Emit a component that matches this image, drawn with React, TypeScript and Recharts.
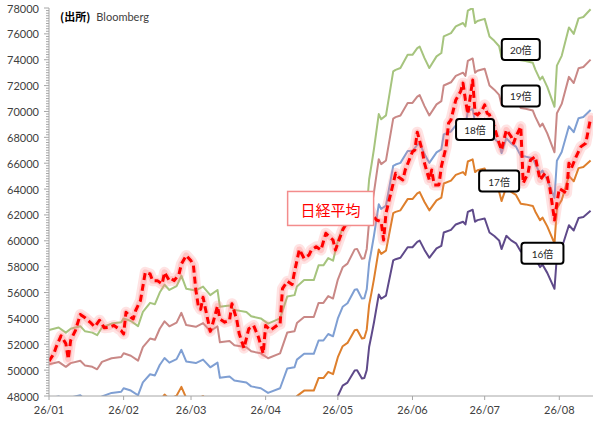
import React from 'react';
import { LineChart, Line, XAxis, YAxis, ReferenceDot } from 'recharts';

const epsDays = [
  0, 4, 7, 9, 13, 15, 18, 20, 22, 26,
  30, 31, 34, 37, 39, 42, 44, 46, 48, 50,
  53, 55, 57, 61, 64, 67, 70, 71, 75, 77,
  82, 84, 88, 91, 96, 99, 102, 103, 106, 110,
  112, 114, 116, 118, 120, 122, 124, 127, 128, 130,
  131, 132, 133, 134, 135, 137, 138, 140, 143, 144,
  146, 149, 151, 153, 154, 156, 158, 161, 163, 164,
  167, 169, 172, 173, 174, 176, 177, 178, 181, 183,
  185, 187, 188, 190, 192, 194, 196, 198, 201, 202,
  204, 205, 207, 210, 211, 213, 216, 218, 220, 222,
  225,
];
const eps = [
  2655, 2665, 2645, 2660, 2670, 2650, 2645, 2635, 2665, 2680,
  2685, 2700, 2690, 2670, 2725, 2760, 2755, 2800, 2830, 2810,
  2825, 2865, 2815, 2808, 2823, 2790, 2810, 2745, 2750, 2733,
  2725, 2708, 2700, 2680, 2700, 2785, 2790, 2823, 2848, 2848,
  2905, 2905, 2933, 2923, 3000, 3050, 3065, 3123, 3125, 3085,
  3087, 3125, 3238, 3295, 3355, 3490, 3470, 3485, 3655, 3661,
  3668, 3719, 3719, 3745, 3751, 3706, 3668, 3713, 3726, 3790,
  3803, 3829, 3842, 3829, 3890, 3900, 3842, 3850, 3858, 3790,
  3773, 3752, 3710, 3774, 3752, 3738, 3698, 3695, 3688, 3663,
  3623, 3635, 3595, 3518, 3677, 3715, 3825, 3800, 3860, 3865,
  3895,
];

// Nikkei average
const nikkeiDays = [
  0, 2, 3, 5, 7, 8, 9, 11, 13, 15,
  17, 19, 21, 23, 25, 27, 29, 30, 31, 32,
  34, 35, 36, 38, 40, 42, 43, 45, 47, 48,
  50, 51, 52, 54, 55, 57, 59, 60, 61, 62,
  63, 64, 65, 67, 68, 70, 71, 73, 75, 76,
  78, 79, 81, 83, 85, 87, 89, 90, 92, 95,
  96, 97, 99, 101, 102, 104, 106, 108, 109, 111,
  113, 115, 118, 119, 122, 124, 127, 130, 133, 135,
  136, 138, 139, 140, 142, 144, 145, 147, 148, 151,
  152, 153, 155, 156, 158, 159, 160, 162, 163, 165,
  166, 167, 168, 169, 171, 172, 173, 174, 176, 177,
  178, 180, 181, 182, 183, 185, 187, 188, 190, 192,
  193, 194, 196, 197, 199, 200, 202, 204, 206, 207,
  208, 210, 211, 212, 215, 216, 217, 219, 221, 223,
  225,
];
const nikkei = [
  50700, 51270, 51800, 52650, 52050, 50850, 52300, 53080, 54300, 54050,
  53720, 53350, 53860, 53270, 53320, 53450, 53190, 53060, 52800, 54480,
  54090, 53960, 54610, 55380, 57560, 57430, 56920, 56920, 56660, 57560,
  56920, 57050, 56920, 57400, 58200, 58870, 58450, 58100, 56200, 55000,
  54700, 55630, 54740, 53000, 53580, 54950, 53950, 53710, 53840, 55140,
  53900, 52830, 51700, 53200, 53450, 52560, 51280, 53450, 53080, 53500,
  53550, 56300, 56870, 56620, 57600, 59330, 58640, 58900, 59290, 59540,
  59290, 60580, 60060, 59290, 60840, 61480, 62300, 61800, 62500, 61860,
  61610, 61480, 60060, 62130, 63680, 65220, 64960, 64700, 65480, 66890,
  67020, 68400, 67020, 66000, 64700, 65480, 64320, 64320, 65740, 67280,
  69090, 69350, 70120, 70890, 71540, 72190, 70890, 69800, 72440, 69870,
  69740, 70120, 70510, 69870, 69740, 68830, 67540, 67020, 68570, 68060,
  67540, 68060, 68830, 64450, 65220, 66250, 66510, 64700, 65220, 64960,
  64180, 61610, 62900, 64050, 63680, 66000, 65610, 66510, 67280, 67540,
  69480,
];

const multiples = [20, 19, 18, 17, 16];
const multipleLabels = ['20倍', '19倍', '18倍', '17倍', '16倍'];
const multipleColors = ['#A6C47E', '#C98886', '#7F9FD3', '#DE7F2C', '#5F4A8A'];
const labelDays = [196, 196, 177, 187, 205];
const labelValues = [74790, 71200, 68600, 64620, 59030];
const labelWidths = [38, 38, 38, 40, 42];

const nikkeiLabel = '日経平均';
const nikkeiLabelDay = 117;
const nikkeiLabelValue = 62500;

const monthTicks = [0, 31, 59, 90, 120, 151, 181, 212];
const monthLabels = ['26/01', '26/02', '26/03', '26/04', '26/05', '26/06', '26/07', '26/08'];

const yMin = 48000;
const yMax = 78000;
const yTicks: number[] = [];
for (let v = yMin; v <= yMax; v += 200) yTicks.push(v);

const epsTable = epsDays.map((d, i) => {
  const row: Record<string, number> = { day: d };
  multiples.forEach((m) => {
    row['m' + m] = eps[i] * m;
  });
  return row;
});
const nikkeiTable = nikkeiDays.map((d, i) => ({ day: d, nikkei: nikkei[i] }));

const FONT = "Lato, 'Noto Sans CJK JP', sans-serif";

const YTick = (props: any) => {
  const { x, y, payload } = props;
  const v = payload.value as number;
  const major = v % 2000 === 0;
  return (
    <g>
      <line x1={x - (major ? 5 : 3)} x2={x} y1={y} y2={y} stroke="#A6A6A6" strokeWidth={1} />
      {major && (
        <text x={x - 10} y={y} textAnchor="end" dominantBaseline="central" fontSize={11} fill="#404040" fontFamily={FONT}>
          {v}
        </text>
      )}
    </g>
  );
};

const makeBox = (label: string, w: number) => (props: any) => {
  const { cx, cy } = props;
  const h = 21;
  return (
    <g>
      <rect x={cx - w / 2} y={cy - h / 2} width={w} height={h} rx={3} ry={3} fill="#FFFFFF" stroke="#000000" strokeWidth={2} />
      <text x={cx} y={cy + 0.5} textAnchor="middle" dominantBaseline="central" fontSize={10} fill="#262626" fontFamily={FONT}>
        {label}
      </text>
    </g>
  );
};

const nikkeiBox = (props: any) => {
  const { cx, cy } = props;
  const w = 86;
  const h = 34;
  return (
    <g>
      <rect x={cx - w / 2} y={cy - h / 2} width={w} height={h} fill="#FFFFFF" stroke="#F38C8C" strokeWidth={1.5} />
      <text x={cx} y={cy + 1} textAnchor="middle" dominantBaseline="central" fontSize={15} fill="#FF0000" fontFamily="'Noto Sans CJK JP', sans-serif">
        {nikkeiLabel}
      </text>
    </g>
  );
};

export default function App() {
  return (
    <div style={{ position: 'absolute', left: 0, top: 0, width: 604, height: 433, background: '#FFFFFF' }}>
      <LineChart width={604} height={433} margin={{ top: 8, right: 11, bottom: 0, left: 1 }}>
        <XAxis
          type="number"
          dataKey="day"
          domain={[0, 226]}
          ticks={monthTicks}
          interval={0}
          allowDataOverflow
          tickFormatter={(v: number) => monthLabels[monthTicks.indexOf(v)] ?? ''}
          height={37}
          tickSize={4}
          tickMargin={6}
          stroke="#A6A6A6"
          tick={{ fontSize: 11, fill: '#404040', fontFamily: FONT }}
        />
        <YAxis
          type="number"
          domain={[yMin, yMax]}
          ticks={yTicks}
          interval={0}
          allowDataOverflow
          width={48}
          tickSize={0}
          tickMargin={0}
          tickLine={false}
          stroke="#A6A6A6"
          tick={<YTick />}
        />
        {multiples.map((m, i) => (
          <Line
            key={m}
            data={epsTable}
            dataKey={'m' + m}
            stroke={multipleColors[i]}
            strokeWidth={2}
            dot={false}
            activeDot={false}
            isAnimationActive={false}
            strokeLinejoin="round"
          />
        ))}
        <Line data={nikkeiTable} dataKey="nikkei" stroke="#FF8080" strokeOpacity={0.22} strokeWidth={11} dot={false} activeDot={false} isAnimationActive={false} strokeLinejoin="round" strokeLinecap="round" />
        <Line data={nikkeiTable} dataKey="nikkei" stroke="#FF8080" strokeOpacity={0.3} strokeWidth={6} dot={false} activeDot={false} isAnimationActive={false} strokeLinejoin="round" strokeLinecap="round" />
        <Line data={nikkeiTable} dataKey="nikkei" stroke="#FF0000" strokeWidth={3} strokeDasharray="7 4" dot={false} activeDot={false} isAnimationActive={false} strokeLinejoin="round" />
        {multiples.map((m, i) => (
          <ReferenceDot
            key={'lbl' + m}
            x={labelDays[i]}
            y={labelValues[i]}
            r={1}
            ifOverflow="visible"
            zIndex={2500}
            shape={makeBox(multipleLabels[i], labelWidths[i])}
          />
        ))}
        <ReferenceDot x={nikkeiLabelDay} y={nikkeiLabelValue} r={1} ifOverflow="visible" zIndex={2500} shape={nikkeiBox} />
      </LineChart>
      <div style={{ position: 'absolute', left: 60, top: 9, fontSize: 11, fontFamily: FONT, lineHeight: '14px', whiteSpace: 'nowrap' }}>
        <span style={{ fontWeight: 'bold', color: '#000000', fontFamily: "'Noto Sans CJK JP', sans-serif" }}>(出所)</span>
        <span style={{ color: '#404040', marginLeft: 6 }}>Bloomberg</span>
      </div>
    </div>
  );
}
